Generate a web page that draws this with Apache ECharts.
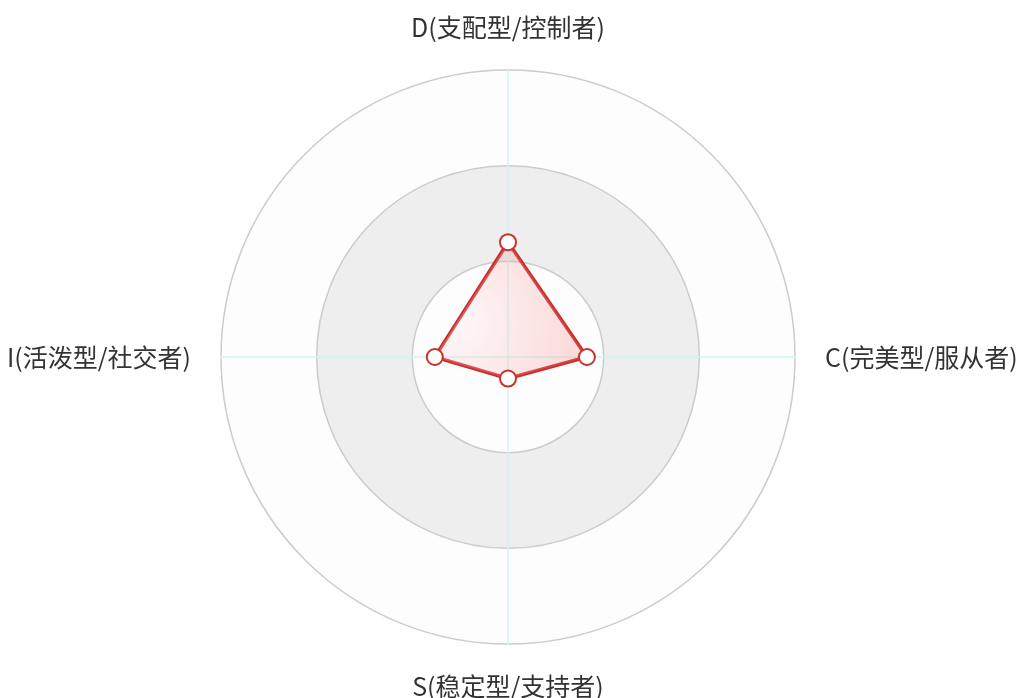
<!DOCTYPE html>
<html>
<head>
<meta charset="utf-8">
<script src="https://cdn.jsdelivr.net/npm/echarts@6/dist/echarts.min.js"></script>
<style>
html,body{margin:0;padding:0;background:#fff;}
#main{width:1016px;height:698px;}
</style>
</head>
<body>
<div id="main"></div>
<script>
var indicatorNames = ['D(支配型/控制者)', 'I(活泼型/社交者)', 'S(稳定型/支持者)', 'C(完美型/服从者)'];
var indicatorMax = [100, 100, 100, 100];
var seriesValues = [40, 25.5, 7.5, 27.5];

var chart = echarts.init(document.getElementById('main'));
chart.setOption({
  backgroundColor: '#fff',
  radar: {
    center: ['50%', 357],
    radius: 287,
    shape: 'circle',
    splitNumber: 3,
    startAngle: 90,
    indicator: indicatorNames.map(function (n, i) { return { name: n, max: indicatorMax[i] }; }),
    axisName: {
      color: '#333',
      fontSize: 25,
      fontFamily: '"Noto Sans CJK SC", "Noto Sans", sans-serif'
    },
    nameGap: 30,
    axisLine: { lineStyle: { color: '#cdf7f7', width: 1.5 } },
    splitLine: { lineStyle: { color: '#cccccc', width: 1.5 } },
    splitArea: {
      show: true,
      areaStyle: { color: ['rgba(250,250,250,0.3)', 'rgba(200,200,200,0.3)'] }
    }
  },
  series: [{
    type: 'radar',
    symbol: 'circle',
    symbolSize: 16,
    lineStyle: { color: '#c9302c', width: 3.5 },
    itemStyle: { color: '#fff', borderColor: '#c9302c', borderWidth: 2 },
    areaStyle: {
      color: new echarts.graphic.RadialGradient(0.15, 0.6, 1, [
        { offset: 0, color: 'rgba(255,235,235,0.4)' },
        { offset: 1, color: 'rgba(245,100,100,0.35)' }
      ])
    },
    data: [{ value: seriesValues }]
  }]
});
</script>
</body>
</html>
